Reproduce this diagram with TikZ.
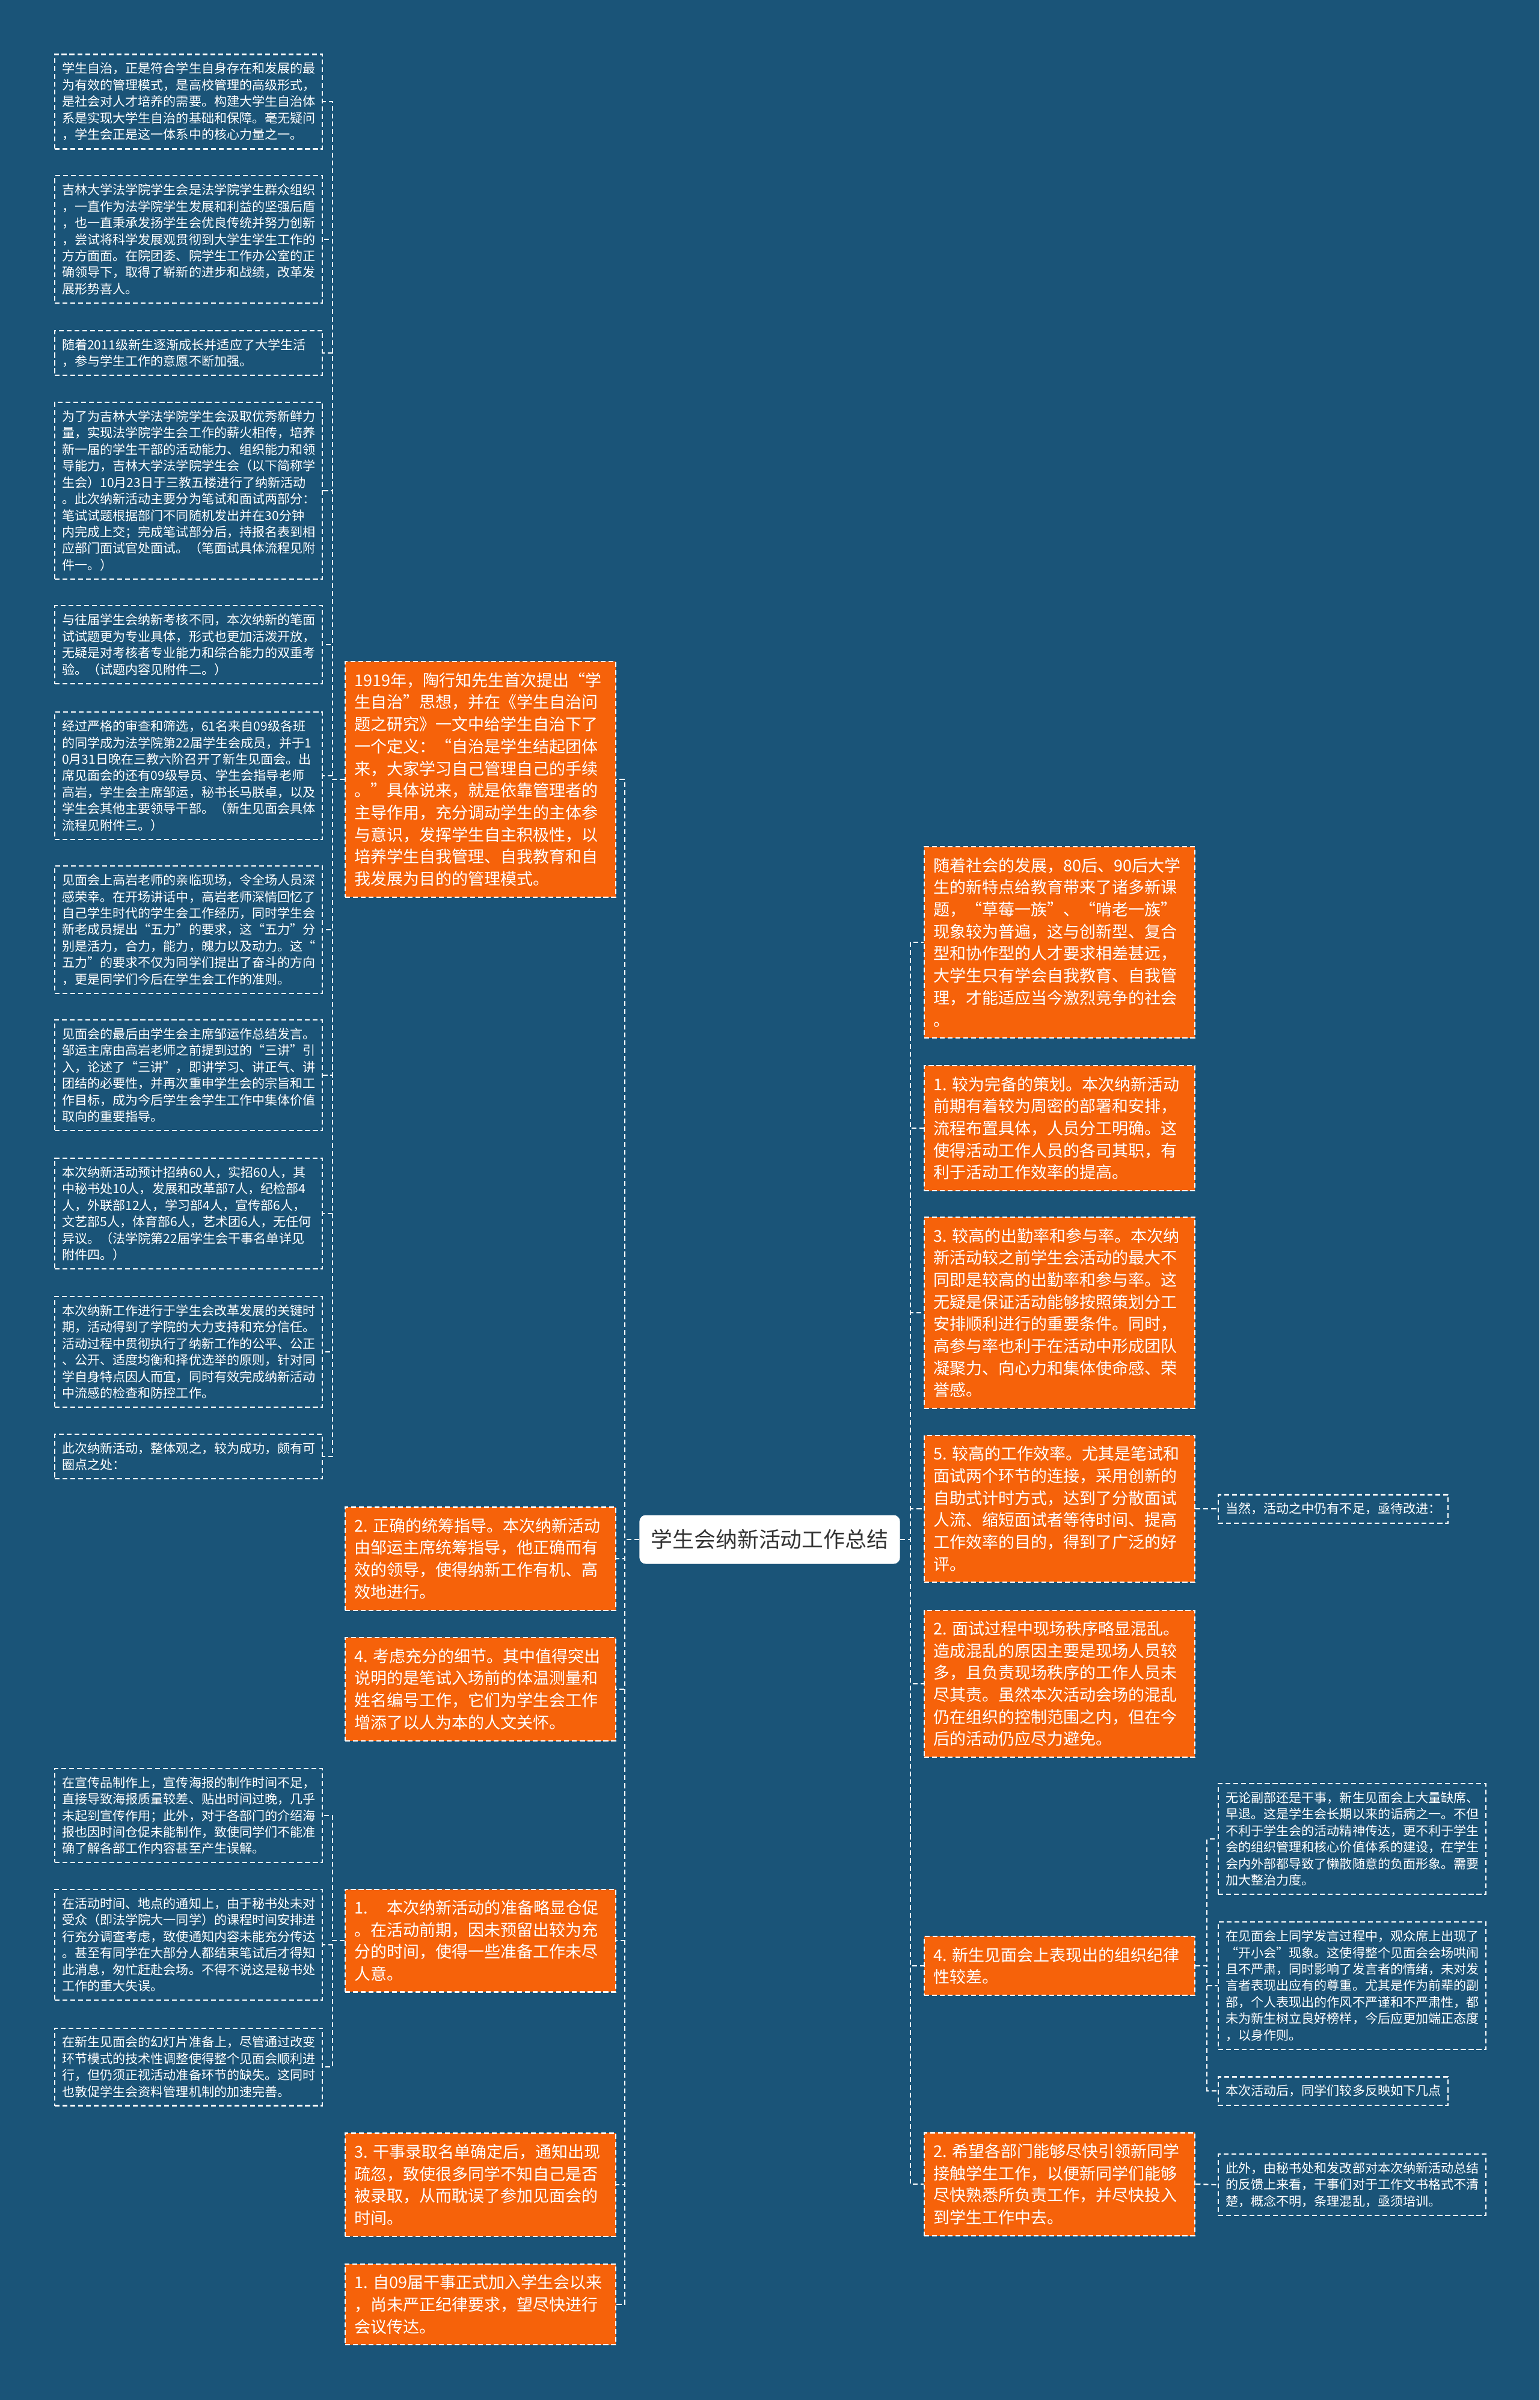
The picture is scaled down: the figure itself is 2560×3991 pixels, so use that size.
\documentclass[tikz,border=0pt]{standalone}
\usepackage{fontspec}
\newfontfamily\cjk{Noto Sans CJK SC}
\usetikzlibrary{positioning}
\definecolor{MapBlue}{RGB}{26, 84, 120}
\definecolor{MapOrange}{RGB}{246, 98, 10}
\definecolor{MapInk}{RGB}{51, 51, 51}

\begin{document}
\begin{tikzpicture}[
  x=0.01cm, y=-0.01cm,
  every node/.style={font=\cjk, text=white},
  hub/.style={fill=white, rounded corners=3pt, text=MapInk,
              font=\cjk\fontsize{10.2pt}{12pt}\selectfont,
              minimum width=4.33cm, minimum height=0.81cm, inner sep=0pt},
  topic/.style={draw=white, line width=0.6pt, dash pattern=on 2.3pt off 1.4pt,
                fill=MapOrange, font=\cjk\fontsize{7.68pt}{10.43pt}\selectfont,
                align=left, text width=4.2cm, inner xsep=0.15cm, inner ysep=0.18cm,
                anchor=west},
  note/.style={draw=white, line width=0.6pt, dash pattern=on 2.3pt off 1.4pt,
               font=\cjk\fontsize{6pt}{7.8pt}\selectfont,
               align=left, text width=4.21cm, inner xsep=0.12cm, inner ysep=0.135cm,
               anchor=west},
  link/.style={draw=white, line width=0.6pt, dash pattern=on 2.3pt off 1.4pt}
]
  \path[use as bounding box, fill=MapBlue] (0,0) rectangle (2560,3991);

  %% Centre
  \node[hub] (c) at (1280, 2560) {学生会纳新活动工作总结};

  %% Left topics
  \node[topic] (o1) at (573, 1296) {1919年，陶行知先生首次提出“学\\生自治”思想，并在《学生自治问\\题之研究》一文中给学生自治下了\\一个定义：“自治是学生结起团体\\来，大家学习自己管理自己的手续\\。”具体说来，就是依靠管理者的\\主导作用，充分调动学生的主体参\\与意识，发挥学生自主积极性，以\\培养学生自我管理、自我教育和自\\我发展为目的的管理模式。};
  \node[topic] (o2) at (573, 2592) {2.~正确的统筹指导。本次纳新活动\\由邹运主席统筹指导，他正确而有\\效的领导，使得纳新工作有机、高\\效地进行。};
  \node[topic] (o3) at (573, 2809) {4.~考虑充分的细节。其中值得突出\\说明的是笔试入场前的体温测量和\\姓名编号工作，它们为学生会工作\\增添了以人为本的人文关怀。};
  \node[topic] (o4) at (573, 3227) {1.\hspace{1.2em}本次纳新活动的准备略显仓促\\。在活动前期，因未预留出较为充\\分的时间，使得一些准备工作未尽\\人意。};
  \node[topic] (o5) at (573, 3633) {3.~干事录取名单确定后，通知出现\\疏忽，致使很多同学不知自己是否\\被录取，从而耽误了参加见面会的\\时间。};
  \node[topic] (o6) at (573, 3832) {1.~自09届干事正式加入学生会以来\\，尚未严正纪律要求，望尽快进行\\会议传达。};

  %% Right topics
  \node[topic] (r1) at (1536, 1567) {随着社会的发展，80后、90后大学\\生的新特点给教育带来了诸多新课\\题，“草莓一族”、“啃老一族”\\现象较为普遍，这与创新型、复合\\型和协作型的人才要求相差甚远，\\大学生只有学会自我教育、自我管\\理，才能适应当今激烈竞争的社会\\。};
  \node[topic] (r2) at (1536, 1876) {1.~较为完备的策划。本次纳新活动\\前期有着较为周密的部署和安排，\\流程布置具体，人员分工明确。这\\使得活动工作人员的各司其职，有\\利于活动工作效率的提高。};
  \node[topic] (r3) at (1536, 2183) {3.~较高的出勤率和参与率。本次纳\\新活动较之前学生会活动的最大不\\同即是较高的出勤率和参与率。这\\无疑是保证活动能够按照策划分工\\安排顺利进行的重要条件。同时，\\高参与率也利于在活动中形成团队\\凝聚力、向心力和集体使命感、荣\\誉感。};
  \node[topic] (r4) at (1536, 2509) {5.~较高的工作效率。尤其是笔试和\\面试两个环节的连接，采用创新的\\自助式计时方式，达到了分散面试\\人流、缩短面试者等待时间、提高\\工作效率的目的，得到了广泛的好\\评。};
  \node[topic] (r5) at (1536, 2800) {2.~面试过程中现场秩序略显混乱。\\造成混乱的原因主要是现场人员较\\多，且负责现场秩序的工作人员未\\尽其责。虽然本次活动会场的混乱\\仍在组织的控制范围之内，但在今\\后的活动仍应尽力避免。};
  \node[topic] (r6) at (1536, 3269) {4.~新生见面会上表现出的组织纪律\\性较差。};
  \node[topic] (r7) at (1536, 3632) {2.~希望各部门能够尽快引领新同学\\接触学生工作，以便新同学们能够\\尽快熟悉所负责工作，并尽快投入\\到学生工作中去。};

  %% Left notes
  \node[note] (b1) at (90, 169) {学生自治，正是符合学生自身存在和发展的最\\为有效的管理模式，是高校管理的高级形式，\\是社会对人才培养的需要。构建大学生自治体\\系是实现大学生自治的基础和保障。毫无疑问\\，学生会正是这一体系中的核心力量之一。};
  \node[note] (b2) at (90, 398) {吉林大学法学院学生会是法学院学生群众组织\\，一直作为法学院学生发展和利益的坚强后盾\\，也一直秉承发扬学生会优良传统并努力创新\\，尝试将科学发展观贯彻到大学生学生工作的\\方方面面。在院团委、院学生工作办公室的正\\确领导下，取得了崭新的进步和战绩，改革发\\展形势喜人。};
  \node[note] (b3) at (90, 587) {随着2011级新生逐渐成长并适应了大学生活\\，参与学生工作的意愿不断加强。};
  \node[note] (b4) at (90, 816) {为了为吉林大学法学院学生会汲取优秀新鲜力\\量，实现法学院学生会工作的薪火相传，培养\\新一届的学生干部的活动能力、组织能力和领\\导能力，吉林大学法学院学生会（以下简称学\\生会）10月23日于三教五楼进行了纳新活动\\。此次纳新活动主要分为笔试和面试两部分：\\笔试试题根据部门不同随机发出并在30分钟\\内完成上交；完成笔试部分后，持报名表到相\\应部门面试官处面试。（笔面试具体流程见附\\件一。）};
  \node[note] (b5) at (90, 1072) {与往届学生会纳新考核不同，本次纳新的笔面\\试试题更为专业具体，形式也更加活泼开放，\\无疑是对考核者专业能力和综合能力的双重考\\验。（试题内容见附件二。）};
  \node[note] (b6) at (90, 1290) {经过严格的审查和筛选，61名来自09级各班\\的同学成为法学院第22届学生会成员，并于1\\0月31日晚在三教六阶召开了新生见面会。出\\席见面会的还有09级导员、学生会指导老师\\高岩，学生会主席邹运，秘书长马朕卓，以及\\学生会其他主要领导干部。（新生见面会具体\\流程见附件三。）};
  \node[note] (b7) at (90, 1546) {见面会上高岩老师的亲临现场，令全场人员深\\感荣幸。在开场讲话中，高岩老师深情回忆了\\自己学生时代的学生会工作经历，同时学生会\\新老成员提出“五力”的要求，这“五力”分\\别是活力，合力，能力，魄力以及动力。这“\\五力”的要求不仅为同学们提出了奋斗的方向\\，更是同学们今后在学生会工作的准则。};
  \node[note] (b8) at (90, 1788) {见面会的最后由学生会主席邹运作总结发言。\\邹运主席由高岩老师之前提到过的“三讲”引\\入，论述了“三讲”，即讲学习、讲正气、讲\\团结的必要性，并再次重申学生会的宗旨和工\\作目标，成为今后学生会学生工作中集体价值\\取向的重要指导。};
  \node[note] (b9) at (90, 2018) {本次纳新活动预计招纳60人，实招60人，其\\中秘书处10人，发展和改革部7人，纪检部4\\人，外联部12人，学习部4人，宣传部6人，\\文艺部5人，体育部6人，艺术团6人，无任何\\异议。（法学院第22届学生会干事名单详见\\附件四。）};
  \node[note] (b10) at (90, 2248) {本次纳新工作进行于学生会改革发展的关键时\\期，活动得到了学院的大力支持和充分信任。\\活动过程中贯彻执行了纳新工作的公平、公正\\、公开、适度均衡和择优选举的原则，针对同\\学自身特点因人而宜，同时有效完成纳新活动\\中流感的检查和防控工作。};
  \node[note] (b11) at (90, 2422) {此次纳新活动，整体观之，较为成功，颇有可\\圈点之处：};
  \node[note] (b12) at (90, 3019) {在宣传品制作上，宣传海报的制作时间不足，\\直接导致海报质量较差、贴出时间过晚，几乎\\未起到宣传作用；此外，对于各部门的介绍海\\报也因时间仓促未能制作，致使同学们不能准\\确了解各部工作内容甚至产生误解。};
  \node[note] (b13) at (90, 3234) {在活动时间、地点的通知上，由于秘书处未对\\受众（即法学院大一同学）的课程时间安排进\\行充分调查考虑，致使通知内容未能充分传达\\。甚至有同学在大部分人都结束笔试后才得知\\此消息，匆忙赶赴会场。不得不说这是秘书处\\工作的重大失误。};
  \node[note] (b14) at (90, 3437) {在新生见面会的幻灯片准备上，尽管通过改变\\环节模式的技术性调整使得整个见面会顺利进\\行，但仍须正视活动准备环节的缺失。这同时\\也敦促学生会资料管理机制的加速完善。};

  %% Right notes
  \node[note, text width=3.58cm] (s1) at (2025, 2509) {当然，活动之中仍有不足，亟待改进：};
  \node[note] (s2) at (2025, 3058) {无论副部还是干事，新生见面会上大量缺席、\\早退。这是学生会长期以来的诟病之一。不但\\不利于学生会的活动精神传达，更不利于学生\\会的组织管理和核心价值体系的建设，在学生\\会内外部都导致了懒散随意的负面形象。需要\\加大整治力度。};
  \node[note] (s3) at (2025, 3302) {在见面会上同学发言过程中，观众席上出现了\\“开小会”现象。这使得整个见面会会场哄闹\\且不严肃，同时影响了发言者的情绪，未对发\\言者表现出应有的尊重。尤其是作为前辈的副\\部，个人表现出的作风不严谨和不严肃性，都\\未为新生树立良好榜样，今后应更加端正态度\\，以身作则。};
  \node[note, text width=3.58cm] (s4) at (2025, 3477) {本次活动后，同学们较多反映如下几点};
  \node[note] (s5) at (2025, 3633) {此外，由秘书处和发改部对本次纳新活动总结\\的反馈上来看，干事们对于工作文书格式不清\\楚，概念不明，条理混乱，亟须培训。};

  %% Links, centre to topics
  \draw[link] (c.west) -- ++(-24,0) |- (o1.east);
  \draw[link] (c.west) -- ++(-24,0) |- (o2.east);
  \draw[link] (c.west) -- ++(-24,0) |- (o3.east);
  \draw[link] (c.west) -- ++(-24,0) |- (o4.east);
  \draw[link] (c.west) -- ++(-24,0) |- (o5.east);
  \draw[link] (c.west) -- ++(-24,0) |- (o6.east);
  \draw[link] (c.east) -- ++(17,0)  |- (r1.west);
  \draw[link] (c.east) -- ++(17,0)  |- (r2.west);
  \draw[link] (c.east) -- ++(17,0)  |- (r3.west);
  \draw[link] (c.east) -- ++(17,0)  |- (r4.west);
  \draw[link] (c.east) -- ++(17,0)  |- (r5.west);
  \draw[link] (c.east) -- ++(17,0)  |- (r6.west);
  \draw[link] (c.east) -- ++(17,0)  |- (r7.west);

  %% Links, topics to notes
  \draw[link] (o1.west) -- ++(-20,0) |- (b1.east);
  \draw[link] (o1.west) -- ++(-20,0) |- (b2.east);
  \draw[link] (o1.west) -- ++(-20,0) |- (b3.east);
  \draw[link] (o1.west) -- ++(-20,0) |- (b4.east);
  \draw[link] (o1.west) -- ++(-20,0) |- (b5.east);
  \draw[link] (o1.west) -- ++(-20,0) |- (b6.east);
  \draw[link] (o1.west) -- ++(-20,0) |- (b7.east);
  \draw[link] (o1.west) -- ++(-20,0) |- (b8.east);
  \draw[link] (o1.west) -- ++(-20,0) |- (b9.east);
  \draw[link] (o1.west) -- ++(-20,0) |- (b10.east);
  \draw[link] (o1.west) -- ++(-20,0) |- (b11.east);
  \draw[link] (o4.west) -- ++(-20,0) |- (b12.east);
  \draw[link] (o4.west) -- ++(-20,0) |- (b13.east);
  \draw[link] (o4.west) -- ++(-20,0) |- (b14.east);
  \draw[link] (r4.east) -- (s1.west);
  \draw[link] (r6.east) -- ++(19,0) |- (s2.west);
  \draw[link] (r6.east) -- ++(19,0) |- (s3.west);
  \draw[link] (r6.east) -- ++(19,0) |- (s4.west);
  \draw[link] (r7.east) -- (s5.west);
\end{tikzpicture}
\end{document}
